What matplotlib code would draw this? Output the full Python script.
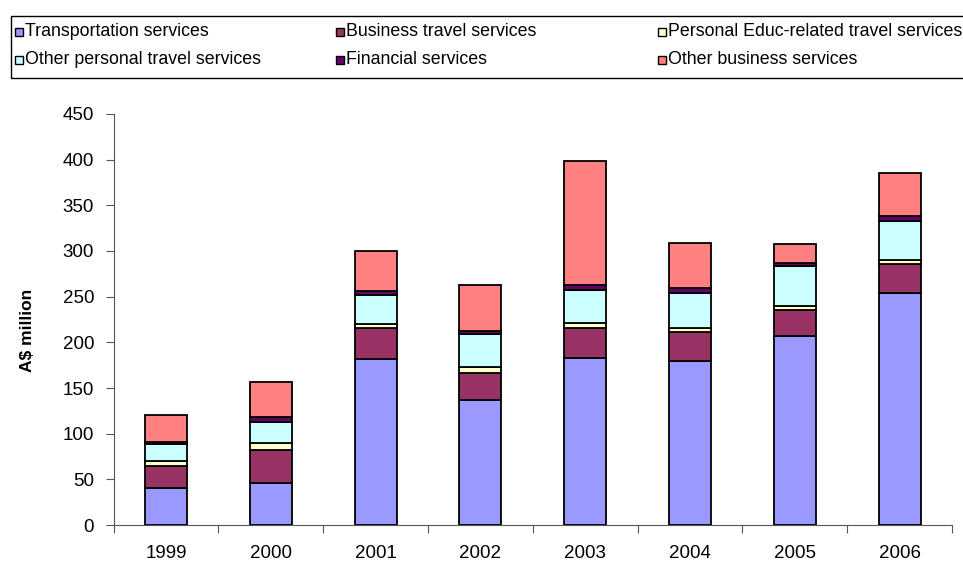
import numpy as np
import matplotlib
matplotlib.use("Agg")
import matplotlib.pyplot as plt
from matplotlib.patches import Rectangle

plt.rcParams["font.family"] = ["Liberation Sans", "DejaVu Sans"]

# --- data (A$ million) ---
years = ["1999", "2000", "2001", "2002", "2003", "2004", "2005", "2006"]
transport = [41, 46.4, 182, 137, 183.4, 179.7, 207.4, 254.2]
business_travel = [24, 35.8, 33.6, 29.2, 32.4, 31.4, 27.8, 31.0]
educ_travel = [5.5, 7.3, 4.7, 6.9, 5.9, 4.7, 5.1, 5.1]
other_personal = [18, 23.7, 31.8, 36.2, 35.8, 38.0, 42.7, 42.8]
financial = [2, 5.5, 3.6, 3.6, 5.5, 5.2, 3.7, 5.5]
other_business = [30, 37.6, 44.6, 50.1, 135.8, 50.0, 20.8, 46.3]

series_names = ["Transportation services", "Business travel services",
                "Personal Educ-related travel services",
                "Other personal travel services", "Financial services",
                "Other business services"]
series_values = [transport, business_travel, educ_travel,
                 other_personal, financial, other_business]
colors = ["#9999FF", "#993366", "#FFFFCC", "#CCFFFF", "#660066", "#FF8080"]

fig = plt.figure(figsize=(9.63, 5.61), dpi=100)
ax = fig.add_axes([0.118, 0.064, 0.8706, 0.733])

x = np.arange(len(years))
bottom = np.zeros(len(years))
for vals, col in zip(series_values, colors):
    ax.bar(x, vals, width=0.4, bottom=bottom, color=col,
           edgecolor="black", linewidth=1.3)
    bottom += np.array(vals)

ax.set_xlim(-0.5, len(years) - 0.5)
ax.set_ylim(0, 450)
ax.set_yticks(np.arange(0, 451, 50))
ax.set_xticks(np.arange(len(years) + 1) - 0.5)
ax.set_xticklabels([])
ax.set_xticks(x, minor=True)
ax.set_xticklabels(years, minor=True)
ax.tick_params(axis="x", which="major", direction="out", length=6, color="#555555")
ax.tick_params(axis="x", which="minor", length=0, pad=14, labelsize=13.5)
ax.tick_params(axis="y", direction="out", length=6, color="#555555",
               labelsize=13.5, pad=8)

for s in ["top", "right"]:
    ax.spines[s].set_visible(False)
for s in ["left", "bottom"]:
    ax.spines[s].set_color("#555555")

ax.set_ylabel("A$ million", fontsize=12.5, fontweight="bold")
ax.yaxis.set_label_coords(-0.094, 0.474)

# --- legend box at the top (runs off the right edge like the original) ---
W, H = 963.0, 561.0
fig.patches.append(Rectangle((11 / W, 1 - 78 / H), 1.0, 62 / H,
                             transform=fig.transFigure, fill=False,
                             edgecolor="black", linewidth=1.0))
col_x = [15, 336, 658]
row_y = [32, 60]
for i, (name, col) in enumerate(zip(series_names, colors)):
    cx = col_x[i % 3]
    cy = row_y[i // 3]
    fig.patches.append(Rectangle((cx / W, 1 - (cy + 4) / H), 8 / W, 8 / H,
                                 transform=fig.transFigure, facecolor=col,
                                 edgecolor="black", linewidth=1.0))
    fig.text((cx + 10) / W, 1 - cy / H, name, fontsize=12.8,
             va="center", ha="left")

fig.savefig("out.png", dpi=100)
